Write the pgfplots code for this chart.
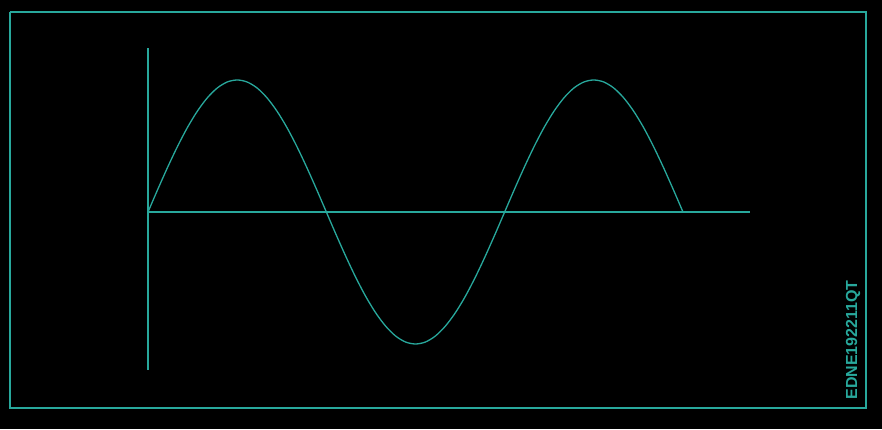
\documentclass[border=0pt]{standalone}
\usepackage{pgfplots}
\pgfplotsset{compat=1.18}
\usepackage{fontspec}
\setmainfont{Liberation Sans}
\definecolor{teal1}{RGB}{40,168,156}
\begin{document}
\begin{tikzpicture}
\begin{axis}[
  width=882pt, height=429pt, scale only axis,
  hide axis, clip=false,
  xmin=-149.4, xmax=740.9,
  ymin=-1.644, ymax=1.606,
]
\fill[black] (rel axis cs:0,0) rectangle (rel axis cs:1,1);
% border
\addplot[teal1, line width=1.4pt] coordinates {(-139.3,1.515) (724.7,1.515) (724.7,-1.485) (-139.3,-1.485) (-139.3,1.515)};
% axes
\addplot[teal1, line width=1.4pt] coordinates {(0,1.24) (0,-1.20)};
\addplot[teal1, line width=1.4pt] coordinates {(0,0) (607.6,0)};
% sine
\addplot[teal1, line width=1.3pt, smooth] coordinates {
(0,0) (10,0.174) (20,0.342) (30,0.5) (40,0.643) (50,0.766) (60,0.866) (70,0.940) (80,0.985) (90,1)
(100,0.985) (110,0.940) (120,0.866) (130,0.766) (140,0.643) (150,0.5) (160,0.342) (170,0.174) (180,0)
(190,-0.174) (200,-0.342) (210,-0.5) (220,-0.643) (230,-0.766) (240,-0.866) (250,-0.940) (260,-0.985) (270,-1)
(280,-0.985) (290,-0.940) (300,-0.866) (310,-0.766) (320,-0.643) (330,-0.5) (340,-0.342) (350,-0.174) (360,0)
(370,0.174) (380,0.342) (390,0.5) (400,0.643) (410,0.766) (420,0.866) (430,0.940) (440,0.985) (450,1)
(460,0.985) (470,0.940) (480,0.866) (490,0.766) (500,0.643) (510,0.5) (520,0.342) (530,0.174) (540,0)
};
\node[rotate=90, text=teal1, font=\bfseries\fontsize{16}{18}\selectfont, inner sep=0pt] at (axis cs:711.6,-0.97) {EDNE192211QT};
\end{axis}
\end{tikzpicture}
\end{document}
